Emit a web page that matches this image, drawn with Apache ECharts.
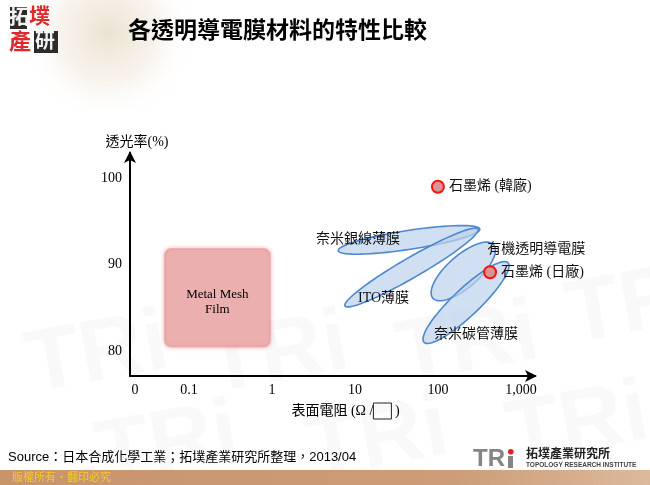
<!DOCTYPE html>
<html><head><meta charset="utf-8">
<script src="https://cdn.jsdelivr.net/npm/echarts@6/dist/echarts.min.js"></script>
<style>html,body{margin:0;padding:0;background:#fff}#c{width:650px;height:485px}</style>
</head><body><div id="c"></div>
<script>
// ---- data ----
const xTickValues = [0, 0.1, 1, 10, 100, 1000];
const xTickLabels = ['0', '0.1', '1', '10', '100', '1,000'];
const yTickValues = [80, 90, 100];

const meshLabel = 'Metal Mesh\nFilm';
const meshRes = [0.05, 0.97];
const meshTrans = [80.4, 91.9];

const filmNames = ['奈米銀線薄膜', 'ITO薄膜', '有機透明導電膜', '奈米碳管薄膜'];
const filmResLow = [6.3, 7.6, 87, 68];
const filmTransLow = [91.6, 85.2, 86.1, 81.0];
const filmResHigh = [320, 305, 470, 700];
const filmTransHigh = [94.1, 94.1, 92.3, 90.2];

const grapheneNames = ['石墨烯 (韓廠)', '石墨烯 (日廠)'];
const grapheneRes = [100, 425];
const grapheneTrans = [99.0, 89.1];

// ---- layout / style ----
const ZERO_POS = -1.65;          // where "0" sits on the pseudo-log axis
function pos(r) { return r === 0 ? ZERO_POS : Math.log10(r); }
const filmWidthPx = [19, 20, 32, 27];
const filmLabelOffset = [[-51, -1], [-28, 31], [73, -22], [10, 32]];
const FONT = "'Liberation Serif', 'Noto Sans CJK TC'";

const chart = echarts.init(document.getElementById('c'));

const meshData = [[pos(meshRes[0]), meshTrans[0], pos(meshRes[1]), meshTrans[1]]];
const filmData = filmNames.map((n, i) => [pos(filmResLow[i]), filmTransLow[i], pos(filmResHigh[i]), filmTransHigh[i], i]);
const dotData = grapheneNames.map((n, i) => ({ name: n, value: [pos(grapheneRes[i]), grapheneTrans[i]] }));

const watermarks = [];
[[20, 300], [200, 300], [390, 290], [560, 250], [90, 390], [300, 385], [500, 370], [-40, 460], [180, 470], [420, 465]].forEach(p => {
  watermarks.push({
    type: 'text', left: p[0], top: p[1], z: -10, rotation: 0.18,
    style: { text: 'TRi', font: 'bold 88px "Liberation Sans"', fill: 'rgba(120,120,120,0.045)' }
  });
});

chart.setOption({
  animation: false,
  textStyle: { fontFamily: FONT },
  grid: { left: 130, right: 115, top: 153, bottom: 109, containLabel: false },
  xAxis: {
    type: 'value', min: -1.71, max: 3.17,
    name: '表面電阻 (Ω /{b|} )', nameLocation: 'middle', nameGap: 27,
    nameTextStyle: { fontSize: 14, color: '#000', fontFamily: FONT, padding: [0, 0, 0, 26],
      rich: { b: { width: 18, height: 16, borderColor: '#222', borderWidth: 1 } } },
    axisLine: { onZero: false, lineStyle: { color: '#000', width: 2 }, symbol: ['none', 'arrow'], symbolSize: [9, 12], symbolOffset: [0, 2] },
    axisTick: { show: false },
    splitLine: { show: false },
    axisLabel: {
      customValues: xTickValues.map(pos), margin: 7, fontSize: 14, color: '#000', fontFamily: "'Liberation Serif'",
      formatter: v => { const i = xTickValues.findIndex(t => Math.abs(pos(t) - v) < 1e-6); return i >= 0 ? xTickLabels[i] : ''; }
    }
  },
  yAxis: {
    type: 'value', min: 77.1, max: 102.9,
    name: '透光率(%)', nameLocation: 'end', nameGap: 4,
    nameTextStyle: { fontSize: 14, color: '#000', fontFamily: FONT, padding: [0, 0, 0, 14] },
    axisLine: { onZero: false, lineStyle: { color: '#000', width: 2 }, symbol: ['none', 'arrow'], symbolSize: [9, 12], symbolOffset: [0, 2] },
    axisTick: { show: false },
    splitLine: { show: false },
    axisLabel: { customValues: yTickValues, margin: 8, fontSize: 14, color: '#000', fontFamily: "'Liberation Serif'" }
  },
  graphic: [
    { type: 'rect', left: 0, top: 0, z: -20, shape: { width: 360, height: 110 },
      style: { fill: new echarts.graphic.RadialGradient(0.3, 0.3, 0.8, [
        { offset: 0, color: 'rgba(232,220,200,0.85)' }, { offset: 0.55, color: 'rgba(240,232,218,0.5)' }, { offset: 1, color: 'rgba(255,255,255,0)' }]) } },
    ...watermarks,
    // logo top-left
    { type: 'rect', left: 10, top: 7, z: 5, shape: { width: 17, height: 22 }, style: { fill: '#2b2b2b' } },
    { type: 'text', left: 9, top: 6, z: 6, style: { text: '拓', font: 'bold 20px "Noto Sans CJK TC"', fill: '#f2f2f2' } },
    { type: 'text', left: 29, top: 5, z: 6, style: { text: '墣', font: 'bold 21px "Noto Sans CJK TC"', fill: '#e0282a' } },
    { type: 'rect', left: 34, top: 31, z: 5, shape: { width: 24, height: 22 }, style: { fill: '#2b2b2b' } },
    { type: 'text', left: 35, top: 30, z: 6, style: { text: '研', font: 'bold 20px "Noto Sans CJK TC"', fill: '#f2f2f2' } },
    { type: 'text', left: 9, top: 30, z: 6, style: { text: '產', font: 'bold 22px "Noto Sans CJK TC"', fill: '#e0282a' } },
    // title
    { type: 'text', left: 128, top: 18, z: 6, style: { text: '各透明導電膜材料的特性比較', font: 'bold 23px "Noto Sans CJK TC"', fill: '#000' } },
    // source
    { type: 'text', left: 8, top: 451, z: 6, style: { text: 'Source：日本合成化學工業；拓墣產業研究所整理，2013/04', font: '13px "Liberation Sans", "Noto Sans CJK TC"', fill: '#000' } },
    // bottom band
    { type: 'rect', left: 0, top: 470, z: 4, shape: { width: 650, height: 15 },
      style: { fill: new echarts.graphic.LinearGradient(0, 0, 1, 0, [{ offset: 0, color: '#c8946b' }, { offset: 0.7, color: '#cc9d78' }, { offset: 1, color: '#dcb99c' }]) } },
    { type: 'text', left: 12, top: 471, z: 6, style: { text: '版權所有・翻印必究', font: '11px "Noto Sans CJK TC"', fill: '#f7cc1e' } },
    // TRI logo bottom right
    { type: 'text', left: 473, top: 447, z: 6, style: { text: 'TR', font: 'bold 24px "Liberation Sans"', fill: '#858585' } },
    { type: 'rect', left: 508, top: 456, z: 6, shape: { width: 5, height: 12 }, style: { fill: '#858585' } },
    { type: 'circle', left: 508, top: 449, z: 6, shape: { r: 2.8 }, style: { fill: '#e02020' } },
    { type: 'text', left: 526, top: 447, z: 6, style: { text: '拓墣產業研究所', font: 'bold 12px "Noto Sans CJK TC"', fill: '#222' } },
    { type: 'text', left: 526, top: 462, z: 6, style: { text: 'TOPOLOGY RESEARCH INSTITUTE', font: 'bold 6.5px "Liberation Sans"', fill: '#444' } }
  ],
  series: [
    {
      type: 'custom', name: 'Metal Mesh Film', z: 2, data: meshData,
      renderItem: (params, api) => {
        const a = api.coord([api.value(0), api.value(1)]);
        const b = api.coord([api.value(2), api.value(3)]);
        const x = Math.min(a[0], b[0]), y = Math.min(a[1], b[1]);
        const w = Math.abs(a[0] - b[0]), h = Math.abs(a[1] - b[1]);
        return { type: 'group', children: [
          { type: 'rect', shape: { x: x + 1, y: y + 1, width: w - 2, height: h - 2, r: 6 },
            style: { fill: 'rgba(236,176,176,0.95)', stroke: 'rgba(236,150,150,0.5)', lineWidth: 2, shadowBlur: 4, shadowColor: 'rgba(232,140,140,0.8)' } },
          { type: 'text', style: { text: meshLabel, x: x + w / 2, y: y + h / 2 + 4, align: 'center', verticalAlign: 'middle',
            font: "13px 'Liberation Serif'", lineHeight: 15, fill: '#000' } }
        ] };
      }
    },
    {
      type: 'custom', name: 'films', z: 3, data: filmData,
      renderItem: (params, api) => {
        const p1 = api.coord([api.value(0), api.value(1)]);
        const p2 = api.coord([api.value(2), api.value(3)]);
        const i = api.value(4);
        const cx = (p1[0] + p2[0]) / 2, cy = (p1[1] + p2[1]) / 2;
        const dx = p2[0] - p1[0], dy = p2[1] - p1[1];
        const A = Math.sqrt(dx * dx + dy * dy) / 2, B = filmWidthPx[i] / 2;
        const th = Math.atan2(dy, dx), c = Math.cos(th), s = Math.sin(th);
        const pts = [];
        for (let k = 0; k < 72; k++) {
          const t = k / 72 * Math.PI * 2;
          const ex = A * Math.cos(t), ey = B * Math.sin(t);
          pts.push([cx + ex * c - ey * s, cy + ex * s + ey * c]);
        }
        return { type: 'group', children: [
          { type: 'polygon', z2: 1, shape: { points: pts },
            style: { fill: 'rgba(190,210,236,0.72)', stroke: '#4f88cf', lineWidth: 1.6 } },
          { type: 'text', z2: 20, style: { text: filmNames[i], x: cx + filmLabelOffset[i][0], y: cy + filmLabelOffset[i][1],
            align: 'center', verticalAlign: 'middle', font: "14px 'Liberation Serif', 'Noto Sans CJK TC'", fill: '#111' } }
        ] };
      }
    },
    {
      type: 'scatter', name: '石墨烯', z: 5, data: dotData, symbolSize: 12,
      itemStyle: { color: '#d99595', borderColor: '#ff1010', borderWidth: 2, opacity: 1 },
      label: { show: true, position: 'right', distance: 4, formatter: '{b}', fontSize: 14, color: '#111', fontFamily: FONT }
    }
  ]
});
</script></body></html>
